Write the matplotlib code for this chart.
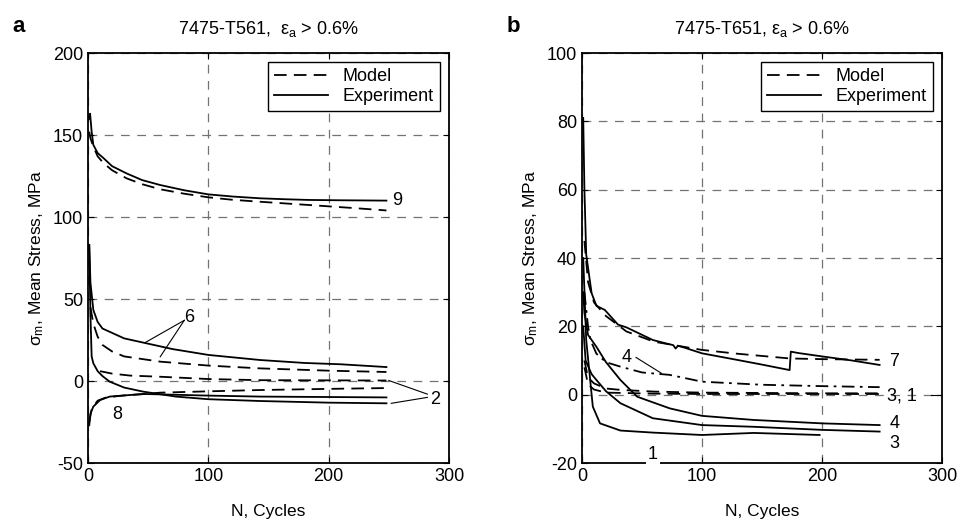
# -*- coding: utf-8 -*-

import matplotlib
matplotlib.use('Agg')
import matplotlib.pyplot as plt


plt.rcParams['font.family'] = ['Liberation Sans', 'DejaVu Sans']
plt.rcParams['mathtext.default'] = 'regular'
plt.rcParams['axes.unicode_minus'] = False


# ---- panel a : 7475-T561 ----
n9_exp = [1, 1.7, 3, 4.4, 8, 12.7, 20, 32, 45, 60, 80, 100, 120, 143, 165, 184, 210, 230, 248]
s9_exp = [160, 163, 152, 144, 139, 136, 131, 126.6, 122.5, 119.5, 116.3, 113.8, 112.5, 111.4, 110.8, 110.4, 110.2, 110.1, 110]
n9_mod = [1, 2, 4.4, 8, 12.7, 20, 32, 45, 60, 80, 100, 120, 143, 184, 220, 248]
s9_mod = [152, 148, 143, 137, 133, 128.5, 123.6, 120, 116.9, 114.2, 112, 110.5, 109.3, 107.3, 105.5, 104]

n6_exp = [1, 2, 4.4, 8, 12, 18, 30, 46, 70, 100, 143, 180, 210, 248]
s6_exp = [83, 60, 43.3, 36, 32, 30, 26, 23.4, 19.5, 15.9, 12.8, 11, 10.2, 8.5]
n6_mod = [2, 4.4, 8, 12, 20, 30, 60, 100, 143, 200, 248]
s6_mod = [45, 35, 27, 22, 18, 15, 11.8, 9.4, 7.7, 6.3, 5.5]

n2_exp = [1, 2, 3, 4.4, 8, 12, 18, 30, 46, 73, 100, 143, 200, 248]
s2_exp = [83, 40, 15, 10.8, 6, 3, -0.4, -4, -6.5, -9.5, -11.1, -12.2, -13.2, -13.6]
n2_mod = [10, 20, 35, 60, 100, 143, 200, 248]
s2_mod = [6, 4.5, 3.3, 2.6, 1.2, 0.5, 0.4, 0.3]

n8_exp = [1, 2, 4.4, 10, 18, 46, 100, 143, 248]
s8_exp = [-27, -20, -15.6, -11.6, -9.5, -7.9, -8.9, -9.5, -10]
n8_mod = [1, 3, 8, 15, 30, 46, 60, 100, 143, 200, 248]
s8_mod = [-25, -17, -12, -10, -8.8, -8, -7.1, -6.3, -5.5, -4.8, -4.3]

# ---- panel b : 7475-T651 ----
n7_exp = [1, 2, 3.5, 8, 12, 19, 30, 37, 59, 70, 76, 78, 80, 85, 100, 129, 150, 173, 174, 180, 200, 225, 248]
s7_exp = [81, 60, 41, 29.7, 26, 24.8, 20.5, 19.7, 16, 15, 14.5, 13.5, 14.3, 13.8, 12.1, 10.2, 8.8, 7.2, 12.6, 12.2, 11.2, 10, 8.7]
n7_mod = [2, 5, 10, 20, 37, 60, 100, 129, 173, 200, 248]
s7_mod = [45, 33, 27, 23, 18.5, 15.5, 13.1, 12, 10.6, 10.4, 10.2]

n4_mod = [2, 5, 7, 12, 20, 32, 50, 73, 100, 150, 200, 248]
s4_mod = [30, 20, 16, 12, 9.5, 8.2, 6.5, 5.8, 3.8, 2.9, 2.5, 2.2]
n3_mod = [2, 5, 10, 20, 32, 60, 100, 200, 248]
s3_mod = [10, 5, 3.3, 1.8, 1.4, 0.9, 0.6, 0.4, 0.4]
n1_mod = [2, 5, 10, 20, 60, 100, 200, 248]
s1_mod = [8, 3, 1.5, 0.6, 0.3, 0.2, 0.2, 0.2]

n4_exp = [1, 2, 5, 12, 20, 32, 46, 73, 100, 143, 200, 248]
s4_exp = [30, 24, 17.5, 14, 9.5, 4.3, -0.6, -4, -6.2, -7.4, -8.4, -8.9]
n3_exp = [1, 3, 8, 12, 20, 32, 59, 100, 143, 200, 248]
s3_exp = [20, 10, 6, 4.3, 1.0, -2.5, -6.9, -8.9, -9.4, -10.3, -10.8]
n1_exp = [1, 3.5, 9, 15, 32, 59, 100, 143, 198]
s1_exp = [40, 16, -3.5, -8.4, -10.5, -11.1, -11.8, -11.2, -11.8]


fig = plt.figure(figsize=(9.59, 5.28), dpi=100)
ax1 = fig.add_axes([0.0918, 0.1231, 0.3764, 0.7765])
ax2 = fig.add_axes([0.6069, 0.1231, 0.3754, 0.7765])

dash = (0, (7, 4))
grid_dash = (0, (7, 6))


def style(ax, ylim, yticks):
    ax.set_xlim(0, 300)
    ax.set_ylim(*ylim)
    ax.set_xticks([0, 100, 200, 300])
    ax.set_yticks(yticks)
    ax.grid(True, linestyle=grid_dash, color='0.45', lw=0.9)
    ax.set_axisbelow(True)
    ax.tick_params(direction='in', top=True, right=True, length=4, labelsize=13, width=0.8)
    for s in ax.spines.values():
        s.set_linewidth(1.3)
    ax.set_xlabel('N, Cycles', fontsize=12.5, labelpad=14)
    ax.set_ylabel('σ$_m$, Mean Stress, MPa', fontsize=12.5, labelpad=5)


def pair(ax, ne, se, nm, sm, ls=dash):
    ax.plot(ne, se, color='k', lw=1.3)
    ax.plot(nm, sm, color='k', lw=1.3, linestyle=ls)


# panel a
pair(ax1, n9_exp, s9_exp, n9_mod, s9_mod)
pair(ax1, n6_exp, s6_exp, n6_mod, s6_mod)
pair(ax1, n2_exp, s2_exp, n2_mod, s2_mod)
pair(ax1, n8_exp, s8_exp, n8_mod, s8_mod)
style(ax1, (-50, 200), [-50, 0, 50, 100, 150, 200])

ax1.text(253, 110, '9', fontsize=13, va='center')
ax1.text(80, 39, '6', fontsize=13, va='center')
ax1.plot([80, 47.4], [37, 23.4], color='k', lw=0.8)
ax1.plot([80, 60], [37, 14.8], color='k', lw=0.8)
ax1.text(24, -20.7, '8', fontsize=13, va='center', ha='center')
ax1.text(284, -11, '2', fontsize=13, va='center')
ax1.plot([282, 250], [-8, 0.3], color='k', lw=0.8)
ax1.plot([282, 252], [-10, -13.6], color='k', lw=0.8)

ax1.set_title('7475-T561,  ε$_a$ > 0.6%', fontsize=13, pad=14)
fig.text(0.013, 0.94, 'a', fontsize=16, fontweight='bold')

# panel b
pair(ax2, n7_exp, s7_exp, n7_mod, s7_mod)
pair(ax2, n4_exp, s4_exp, n4_mod, s4_mod, ls=(0, (7, 3, 1.5, 3)))
pair(ax2, n3_exp, s3_exp, n3_mod, s3_mod)
pair(ax2, n1_exp, s1_exp, n1_mod, s1_mod)
style(ax2, (-20, 100), [-20, 0, 20, 40, 60, 80, 100])

ax2.text(256, 9.7, '7', fontsize=13, va='center')
ax2.text(254, -0.5, '3, 1', fontsize=13, va='center')
ax2.plot([291, 300], [0, 0], color='k', lw=0.8)
ax2.text(256, -8.4, '4', fontsize=13, va='center')
ax2.text(256, -14.2, '3', fontsize=13, va='center')
ax2.text(33, 11, '4', fontsize=13, va='center')
ax2.plot([45, 66], [10.9, 6.3], color='k', lw=0.8)
ax2.text(59, -17.5, '1', fontsize=13, va='center', ha='center', zorder=10,
         bbox=dict(facecolor='w', edgecolor='none', pad=1.5), clip_on=False)

ax2.set_title('7475-T651, ε$_a$ > 0.6%', fontsize=13, pad=14)
fig.text(0.528, 0.94, 'b', fontsize=16, fontweight='bold')

# legends
for ax in (ax1, ax2):
    ax.plot([], [], color='k', lw=1.3, linestyle=dash, label='Model')
    ax.plot([], [], color='k', lw=1.3, label='Experiment')
    lg = ax.legend(loc='upper right', fontsize=13, fancybox=False, framealpha=1,
                   edgecolor='k', handlelength=3, borderaxespad=0.5,
                   labelspacing=0.15, borderpad=0.35)
    lg.get_frame().set_linewidth(1.0)

fig.savefig('out.png', dpi=100)
